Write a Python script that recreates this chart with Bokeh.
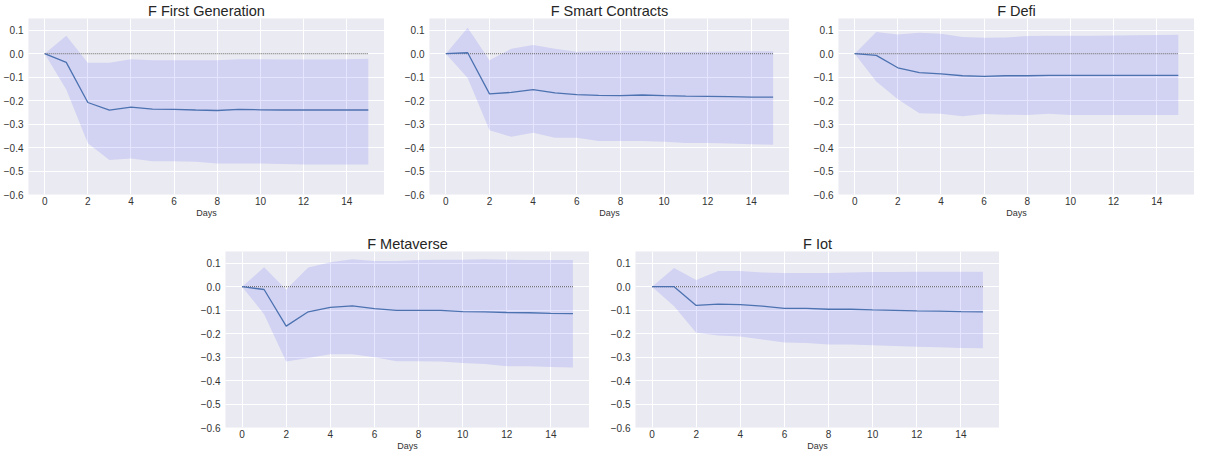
from bokeh.plotting import figure
from bokeh.layouts import row, column
from bokeh.models import FixedTicker, CustomJSTickFormatter, Spacer, Range1d
from bokeh.embed import file_html
from bokeh.resources import INLINE

days = list(range(16))
x_ticks = [0, 2, 4, 6, 8, 10, 12, 14]
y_ticks = [-0.6, -0.5, -0.4, -0.3, -0.2, -0.1, 0.0, 0.1]

titles = ["F First Generation", "F Smart Contracts", "F Defi", "F Metaverse", "F Iot"]

first_gen_resp = [0.0, -0.037, -0.208, -0.240, -0.228, -0.236, -0.237, -0.240, -0.242, -0.237, -0.239, -0.240, -0.240, -0.240, -0.240, -0.240]
first_gen_upper = [0.0, 0.076, -0.039, -0.039, -0.024, -0.028, -0.028, -0.028, -0.028, -0.024, -0.024, -0.025, -0.025, -0.025, -0.024, -0.021]
first_gen_lower = [0.0, -0.153, -0.382, -0.453, -0.447, -0.458, -0.458, -0.460, -0.468, -0.468, -0.468, -0.470, -0.472, -0.472, -0.472, -0.472]

smart_resp = [0.0, 0.004, -0.171, -0.165, -0.153, -0.167, -0.174, -0.178, -0.179, -0.176, -0.179, -0.181, -0.182, -0.183, -0.185, -0.185]
smart_upper = [0.0, 0.111, -0.028, 0.021, 0.037, 0.021, 0.008, 0.011, 0.011, 0.011, 0.007, 0.007, 0.008, 0.009, 0.010, 0.010]
smart_lower = [0.0, -0.104, -0.326, -0.354, -0.337, -0.358, -0.358, -0.372, -0.372, -0.372, -0.375, -0.381, -0.381, -0.383, -0.386, -0.388]

defi_resp = [0.0, -0.007, -0.060, -0.081, -0.086, -0.094, -0.097, -0.094, -0.094, -0.092, -0.092, -0.092, -0.092, -0.092, -0.092, -0.092]
defi_upper = [0.0, 0.093, 0.082, 0.089, 0.085, 0.071, 0.068, 0.069, 0.075, 0.076, 0.076, 0.077, 0.078, 0.079, 0.080, 0.081]
defi_lower = [0.0, -0.118, -0.194, -0.254, -0.256, -0.267, -0.257, -0.260, -0.261, -0.256, -0.261, -0.261, -0.261, -0.261, -0.261, -0.261]

meta_resp = [0.0, -0.012, -0.168, -0.107, -0.088, -0.082, -0.093, -0.101, -0.101, -0.101, -0.106, -0.107, -0.110, -0.111, -0.114, -0.115]
meta_upper = [0.0, 0.083, -0.012, 0.082, 0.104, 0.117, 0.110, 0.110, 0.114, 0.115, 0.115, 0.117, 0.115, 0.114, 0.114, 0.114]
meta_lower = [0.0, -0.117, -0.319, -0.304, -0.288, -0.288, -0.301, -0.318, -0.318, -0.319, -0.325, -0.329, -0.339, -0.339, -0.342, -0.344]

iot_resp = [0.0, 0.0, -0.080, -0.074, -0.076, -0.083, -0.092, -0.092, -0.096, -0.096, -0.099, -0.101, -0.103, -0.104, -0.106, -0.107]
iot_upper = [0.0, 0.080, 0.029, 0.067, 0.067, 0.061, 0.058, 0.058, 0.058, 0.061, 0.063, 0.063, 0.064, 0.064, 0.064, 0.064]
iot_lower = [0.0, -0.083, -0.196, -0.208, -0.212, -0.225, -0.238, -0.240, -0.246, -0.246, -0.250, -0.253, -0.256, -0.258, -0.261, -0.262]

series = [
    (first_gen_resp, first_gen_upper, first_gen_lower),
    (smart_resp, smart_upper, smart_lower),
    (defi_resp, defi_upper, defi_lower),
    (meta_resp, meta_upper, meta_lower),
    (iot_resp, iot_upper, iot_lower),
]

FONT = "Liberation Sans"


def make_panel(idx, left, frame_w, top, frame_h, bottom):
    resp, upper, lower = series[idx]
    p = figure(
        width=left + frame_w, height=top + frame_h + bottom,
        output_backend="svg", toolbar_location=None,
        x_range=Range1d(-0.75, 15.75), y_range=Range1d(-0.6, 0.15),
        min_border_left=left, min_border_right=0,
        min_border_top=top, min_border_bottom=bottom,
        title=titles[idx],
    )
    p.background_fill_color = "#EAEAF2"
    p.border_fill_color = "white"
    p.outline_line_color = None
    p.title.text_font = FONT
    p.title.text_font_size = "14.5px"
    p.title.text_font_style = "normal"
    p.title.text_color = "#262626"
    p.title.align = "center"
    p.title.standoff = 0
    p.title.offset = 0

    p.grid.grid_line_color = "white"
    p.grid.grid_line_width = 1
    p.xaxis.ticker = FixedTicker(ticks=x_ticks)
    p.yaxis.ticker = FixedTicker(ticks=y_ticks)
    p.yaxis.formatter = CustomJSTickFormatter(
        code="var v = Math.round(tick*10)/10; return (v < 0 ? '\u2212' : '') + Math.abs(v).toFixed(1);")
    for ax in (p.xaxis, p.yaxis):
        ax.axis_line_color = None
        ax.major_tick_line_color = None
        ax.minor_tick_line_color = None
        ax.major_tick_out = 0
        ax.major_tick_in = 0
        ax.minor_tick_out = 0
        ax.major_label_text_font = FONT
        ax.major_label_text_font_size = "10px"
        ax.major_label_text_color = "#333333"
    p.yaxis.major_label_standoff = 5
    p.xaxis.major_label_standoff = 2
    p.xaxis.axis_label = "Days"
    p.xaxis.axis_label_text_font = FONT
    p.xaxis.axis_label_text_font_size = "9px"
    p.xaxis.axis_label_text_font_style = "normal"
    p.xaxis.axis_label_text_color = "#333333"
    p.xaxis.axis_label_standoff = 0

    p.varea(x=days, y1=lower, y2=upper, fill_color="blue", fill_alpha=0.1)
    p.line(x=days, y=[0.0] * len(days), line_color="#555555", line_width=1, line_dash="1 1")
    p.line(x=days, y=resp, line_color="#4C72B0", line_width=1.3)
    return p


fa = make_panel(0, 28, 356, 18, 176, 26)
fb = make_panel(1, 45, 360, 18, 176, 26)
fc = make_panel(2, 49, 356, 18, 176, 26)
fd = make_panel(3, 45, 364, 31, 176, 26)
fe = make_panel(4, 46, 364, 31, 176, 26)

layout = column(row(fa, fb, fc), row(Spacer(width=180, height=10), fd, fe))

open("out.html", "w").write(file_html(layout, INLINE))
